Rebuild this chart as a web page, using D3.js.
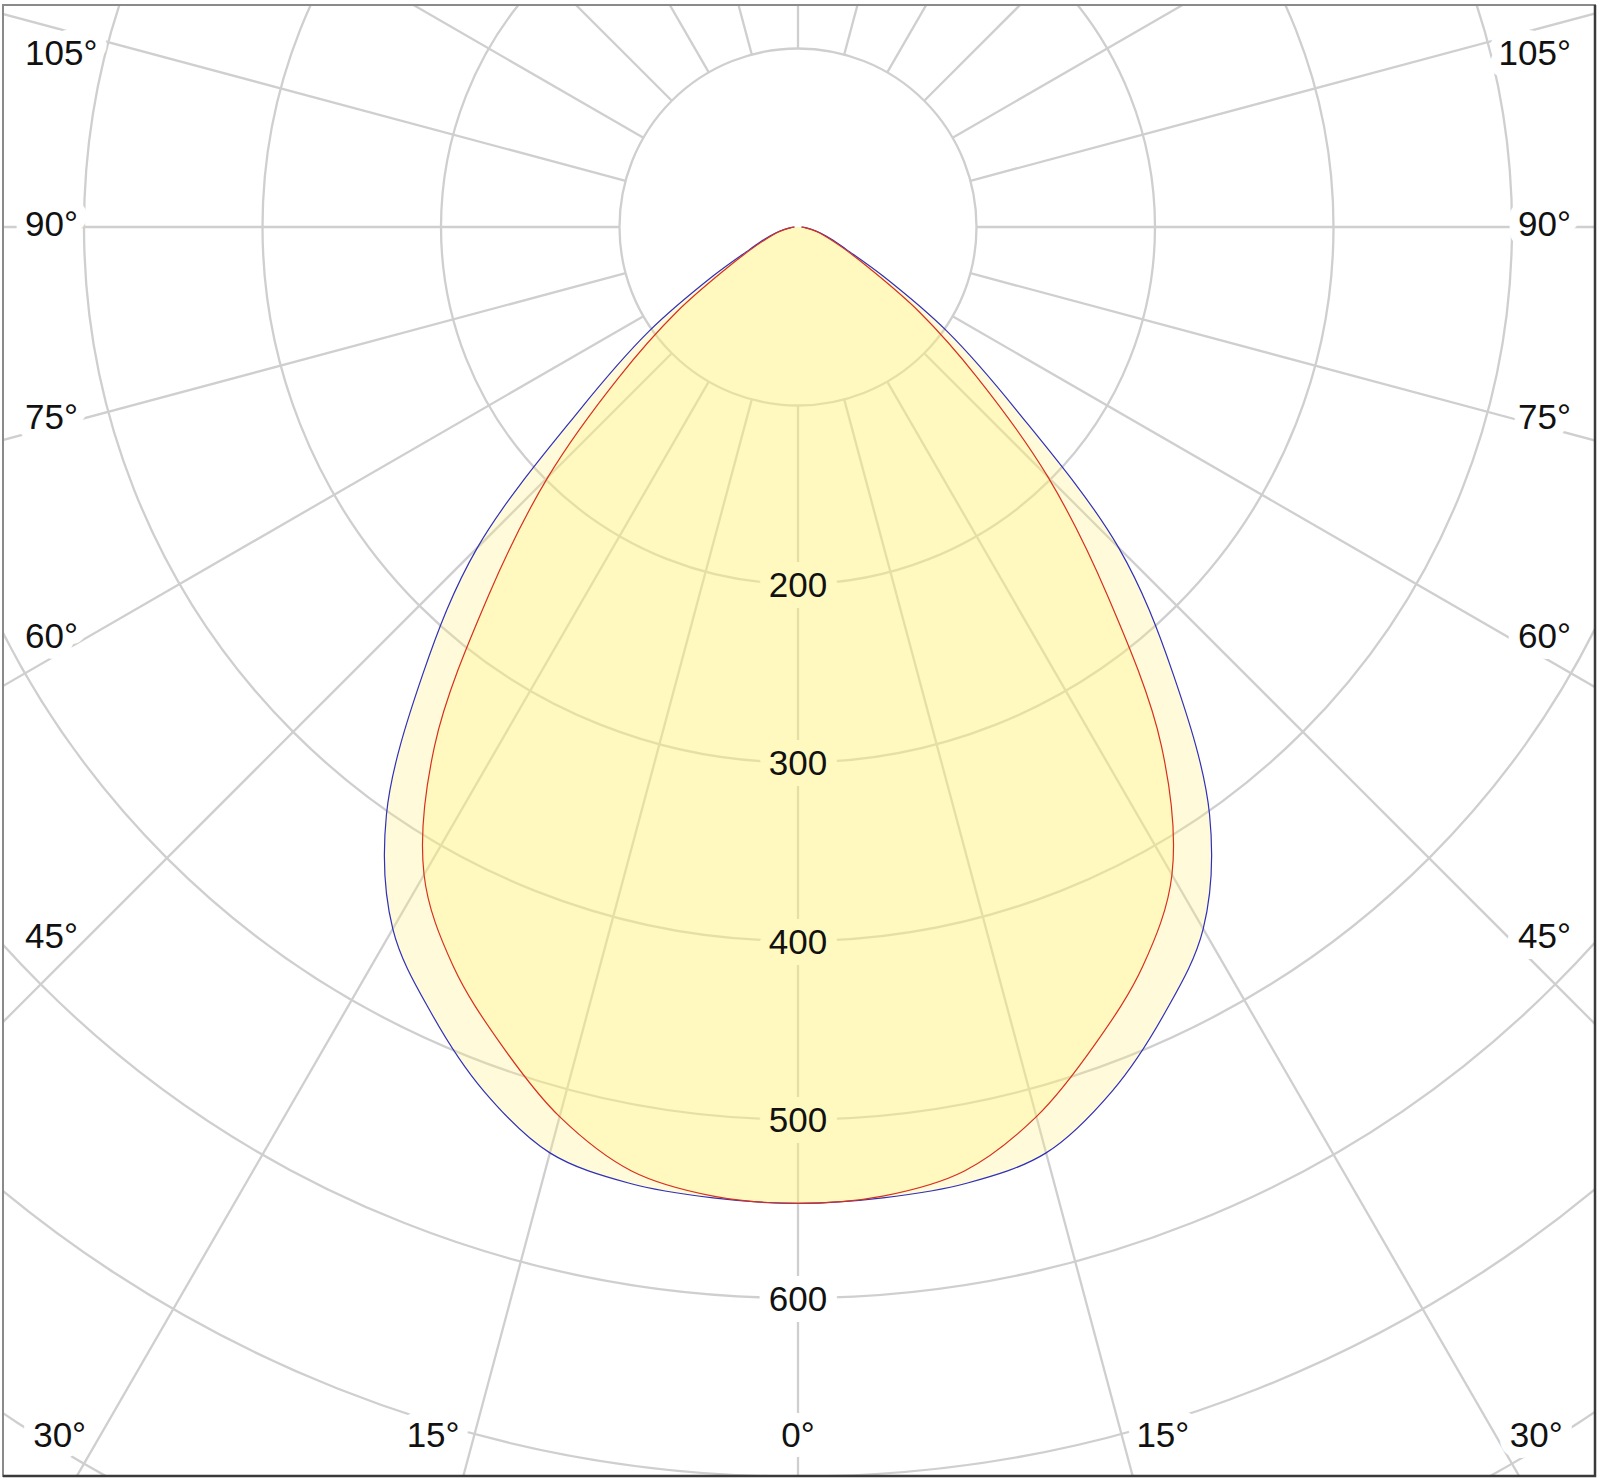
<!DOCTYPE html>
<html>
<head>
<meta charset="utf-8">
<script src="https://cdn.jsdelivr.net/npm/d3@7"></script>
<style>
  body { margin: 0; background: #fff; }
  text { font-family: "Liberation Sans", Arial, sans-serif; }
</style>
</head>
<body>
<div id="wrapper"></div>
<script>
// gamma angles (deg from nadir) and luminous intensity in cd, one half of each plane
const angles = [0, 5, 10, 15, 20, 25, 30, 35, 40, 45, 50, 55, 60, 65, 70, 75, 80, 85, 90]
const intensityC0 = [547, 546, 544, 537, 515, 486, 454, 402, 327, 254, 160, 102, 55, 30, 20, 13, 8, 4, 2]
const intensityC90 = [547, 545, 537, 516, 487, 457, 419, 355, 270, 198, 131, 83, 46, 28, 18, 12, 7, 4, 2]

const ringValues = [100, 200, 300, 400, 500, 600, 700, 800]
const ringLabels = [200, 300, 400, 500, 600]
const spokeAngles = d3.range(0, 360, 15)
const angleLabels = [0, 15, 30, 45, 60, 75, 90, 105]

function drawChart() {

  // 1. Dimensions

  const dimensions = {
    width: 1600,
    height: 1482,
    frame: { left: 3, top: 5, right: 1595, bottom: 1476 },
    center: { x: 798, y: 227 },
    pxPer100: 178.5,
  }
  const { frame, center } = dimensions

  // 2. Canvas

  const svg = d3.select("#wrapper")
    .append("svg")
      .attr("width", dimensions.width)
      .attr("height", dimensions.height)

  svg.append("defs").append("clipPath")
      .attr("id", "frame-clip")
    .append("rect")
      .attr("x", frame.left)
      .attr("y", frame.top)
      .attr("width", frame.right - frame.left)
      .attr("height", frame.bottom - frame.top)

  const clipped = svg.append("g")
      .attr("clip-path", "url(#frame-clip)")

  const centered = `translate(${center.x}, ${center.y})`
  const gridLayer = clipped.append("g").attr("transform", centered)
  const haloLayer = clipped.append("g")
  const fillLayer = clipped.append("g").attr("transform", centered)
  const textLayer = svg.append("g")

  // 3. Scales

  const rScale = d3.scaleLinear()
    .domain([0, 100])
    .range([0, dimensions.pxPer100])

  const toRad = d => d * Math.PI / 180

  // 4. Grid

  const gridColor = "#cfcfcf"

  gridLayer.append("g").selectAll("circle")
    .data(ringValues)
    .join("circle")
      .attr("r", d => rScale(d))
      .attr("fill", "none")
      .attr("stroke", gridColor)
      .attr("stroke-width", 2.3)

  gridLayer.append("g").selectAll("line")
    .data(spokeAngles)
    .join("line")
      .attr("x1", d => rScale(100) * Math.sin(toRad(d)))
      .attr("y1", d => rScale(100) * Math.cos(toRad(d)))
      .attr("x2", d => rScale(950) * Math.sin(toRad(d)))
      .attr("y2", d => rScale(950) * Math.cos(toRad(d)))
      .attr("stroke", gridColor)
      .attr("stroke-width", 2.3)

  // 5. Labels (halo under the fills, text on top)

  const fontSize = 35

  const addLabel = (x, y, txt, anchor) => {
    haloLayer.append("text")
        .attr("x", x).attr("y", y)
        .attr("text-anchor", anchor)
        .attr("dominant-baseline", "central")
        .attr("font-size", fontSize)
        .attr("fill", "#fff")
        .attr("stroke", "#fff")
        .attr("stroke-width", 22)
        .attr("stroke-linejoin", "round")
        .text(txt)
    textLayer.append("text")
        .attr("x", x).attr("y", y)
        .attr("text-anchor", anchor)
        .attr("dominant-baseline", "central")
        .attr("font-size", fontSize)
        .attr("fill", "#111")
        .text(txt)
  }

  ringLabels.forEach(v => {
    addLabel(center.x, center.y + rScale(v), v, "middle")
  })

  const measure = txt => {
    const t = svg.append("text").attr("font-size", fontSize).text(txt)
    const w = t.node().getComputedTextLength()
    t.remove()
    return w
  }

  const bottomY = frame.bottom - 42
  const sideInset = 22
  angleLabels.forEach(a => {
    const txt = `${a}°`
    const sides = a === 0 ? [0] : [-1, 1]
    sides.forEach(s => {
      const th = toRad(a)
      const tSide = (s >= 0 ? frame.right - center.x : center.x - frame.left) / Math.sin(th)
      const tBottom = Math.cos(th) > 1e-6 ? (frame.bottom - center.y) / Math.cos(th) : Infinity
      if (s === 0 || tBottom < tSide) {
        const xRay = center.x + s * (bottomY - center.y) * Math.tan(th)
        const anchor = s < 0 ? "end" : s > 0 ? "start" : "middle"
        addLabel(xRay + s * 15, bottomY, txt, anchor)
      } else {
        const w = measure(txt)
        const reach = center.x - (frame.left + sideInset + w + 12)
        let y = Math.abs(a - 90) < 1e-6 ? center.y - 4 : center.y + reach / Math.tan(th)
        y = Math.max(frame.top + 47, y)
        const x = s < 0 ? frame.left + sideInset : 2 * center.x - (frame.left + sideInset)
        addLabel(x, y, txt, s < 0 ? "start" : "end")
      }
    })
  })

  // 6. Intensity curves

  const mirrored = values => [
    ...angles.map((a, i) => ({ angle: -a, value: values[i] })).reverse(),
    ...angles.slice(1).map((a, i) => ({ angle: a, value: values[i + 1] })),
  ]

  const curveGen = d3.lineRadial()
    .angle(d => Math.PI - toRad(d.angle))
    .radius(d => rScale(d.value))
    .curve(d3.curveCatmullRom)

  const planes = [
    { values: intensityC0, color: "#3030b8" },
    { values: intensityC90, color: "#d8301e" },
  ]

  fillLayer.selectAll("path.fill")
    .data(planes)
    .join("path")
      .attr("class", "fill")
      .attr("d", d => curveGen(mirrored(d.values)))
      .attr("fill", "#fff27a")
      .attr("fill-opacity", 0.28)
      .attr("stroke", "none")

  fillLayer.selectAll("path.outline")
    .data(planes)
    .join("path")
      .attr("class", "outline")
      .attr("d", d => curveGen(mirrored(d.values)))
      .attr("fill", "none")
      .attr("stroke", d => d.color)
      .attr("stroke-width", 1.2)

  // 7. Frame

  svg.append("rect")
      .attr("x", frame.left)
      .attr("y", frame.top)
      .attr("width", frame.right - frame.left)
      .attr("height", frame.bottom - frame.top)
      .attr("fill", "none")
      .attr("stroke", "#8a8a8a")
      .attr("stroke-width", 2)

  svg.append("path")
      .attr("d", `M${frame.left},${frame.bottom}H${frame.right}V${frame.top}`)
      .attr("fill", "none")
      .attr("stroke", "#3a3a3a")
      .attr("stroke-width", 2.5)
}
drawChart()
</script>
</body>
</html>
